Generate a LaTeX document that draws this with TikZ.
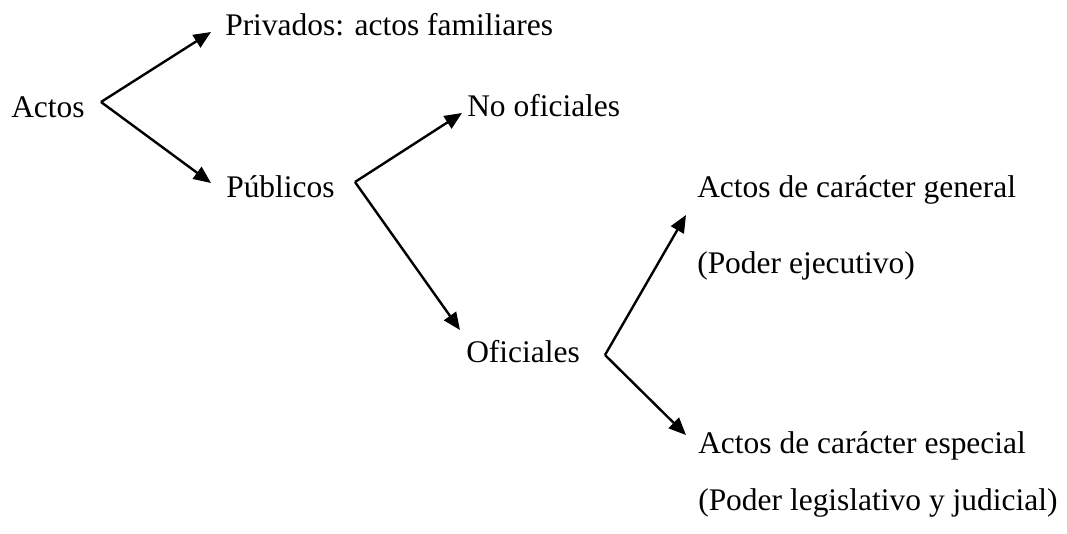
\documentclass[tikz,border=0pt]{standalone}
\usepackage{fontspec}
\setmainfont{Liberation Serif}
\usetikzlibrary{arrows.meta}
\begin{document}
\begin{tikzpicture}[x=0.75pt,y=-0.75pt,
  lbl/.style={anchor=base west,inner sep=0pt,font=\fontsize{23.6}{28}\selectfont},
  conn/.style={line width=1.8pt,-{Triangle[length=13pt,width=11pt]}},
  line join=miter]
\useasboundingbox (0,0) rectangle (1067,533);
\node[lbl] (actos) at (11,117) {Actos};
\node[lbl] (priv) at (225,35) {Privados: actos familiares};
\node[lbl] (pub) at (226,197) {Públicos};
\node[lbl] (noof) at (467,116) {No oficiales};
\node[lbl] (of) at (466,362) {Oficiales};
\node[lbl] (gen) at (697,197) {Actos de carácter general};
\node[lbl] (ejec) at (697,273) {(Poder ejecutivo)};
\node[lbl] (esp) at (698,453) {Actos de carácter especial};
\node[lbl] (leg) at (698,510) {(Poder legislativo y judicial)};
\coordinate (j1) at (101,102);
\coordinate (t1) at (211,32);
\coordinate (t2) at (211,183);
\coordinate (j2) at (355,182);
\coordinate (t3) at (462,113);
\coordinate (t4) at (460,330);
\coordinate (j3) at (605,355);
\coordinate (t5) at (686,215);
\coordinate (t6) at (686,435);
\draw[conn] (j1) -- (t1);
\draw[conn] (j1) -- (t2);
\draw[conn] (j2) -- (t3);
\draw[conn] (j2) -- (t4);
\draw[conn] (j3) -- (t5);
\draw[conn] (j3) -- (t6);
\end{tikzpicture}
\end{document}
